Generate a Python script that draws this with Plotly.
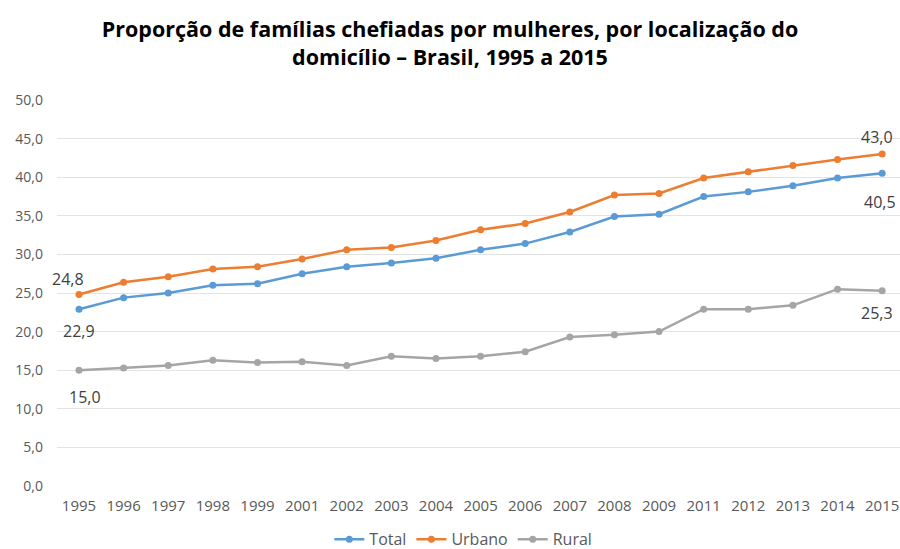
import plotly.graph_objects as go

anos = ["1995", "1996", "1997", "1998", "1999", "2001", "2002", "2003", "2004", "2005",
        "2006", "2007", "2008", "2009", "2011", "2012", "2013", "2014", "2015"]
total = [22.9, 24.4, 25.0, 26.0, 26.2, 27.5, 28.4, 28.9, 29.5, 30.6,
         31.4, 32.9, 34.9, 35.2, 37.5, 38.1, 38.9, 39.9, 40.5]
urbano = [24.8, 26.4, 27.1, 28.1, 28.4, 29.4, 30.6, 30.9, 31.8, 33.2,
          34.0, 35.5, 37.7, 37.9, 39.9, 40.7, 41.5, 42.3, 43.0]
rural = [15.0, 15.3, 15.6, 16.3, 16.0, 16.1, 15.6, 16.8, 16.5, 16.8,
         17.4, 19.3, 19.6, 20.0, 22.9, 22.9, 23.4, 25.5, 25.3]

series = [("Total", total, "#5B9BD5"),
          ("Urbano", urbano, "#ED7D31"),
          ("Rural", rural, "#A5A5A5")]

fig = go.Figure()
for nome, vals, cor in series:
    fig.add_trace(go.Scatter(x=anos, y=vals, name=nome, mode="lines+markers",
                             line=dict(color=cor, width=2.5),
                             marker=dict(color=cor, size=7)))

# rótulos do primeiro e último ano (xshift, yshift)
offsets = {"Total": [(0, -22), (-2, -29)],
           "Urbano": [(-11, 16), (-5, 17)],
           "Rural": [(6, -27), (-5, -22)]}
for nome, vals, cor in series:
    for idx, (dx, dy) in zip([0, len(anos) - 1], offsets[nome]):
        # eixo categórico: posição pelo índice da categoria
        fig.add_annotation(x=idx, y=vals[idx], text=f"{vals[idx]:.1f}".replace(".", ","),
                           showarrow=False, xshift=dx, yshift=dy,
                           font=dict(size=16, color="#404040"))

fig.update_layout(
    width=900, height=549,
    paper_bgcolor="white", plot_bgcolor="white",
    margin=dict(l=57, r=0, t=100, b=63, autoexpand=False),
    font=dict(family="Open Sans, Noto Sans, sans-serif", color="#595959", size=14),
    title=dict(text="<b>Proporção de famílias chefiadas por mulheres, por localização do<br>domicílio – Brasil, 1995 a 2015</b>",
               x=0.5, xanchor="center", y=0.932, yanchor="top", yref="container",
               font=dict(size=21.5, color="#000000")),
    separators=",.",
    showlegend=True,
    legend=dict(orientation="h", x=0.482, xanchor="center", y=-0.138, yanchor="middle",
                itemwidth=30, tracegroupgap=0, borderwidth=0,
                font=dict(size=16, color="#595959")),
    xaxis=dict(type="category", range=[-0.493, 18.4], showgrid=False, showline=False,
               ticks="", automargin=False, ticklabelstandoff=9,
               tickfont=dict(size=15, color="#595959")),
    yaxis=dict(range=[0, 50], dtick=5, tickformat=".1f", showgrid=True,
               gridcolor="#E3E3E3", gridwidth=1, zeroline=False, showline=False,
               ticks="", automargin=False, ticklabelstandoff=13,
               tickfont=dict(size=14, color="#595959")),
)

# sem a margem padrão do <body>, para a figura ocupar a janela inteira
fig.write_html("out.html", config={"displayModeBar": False},
               post_script="document.body.style.margin = '0';")
